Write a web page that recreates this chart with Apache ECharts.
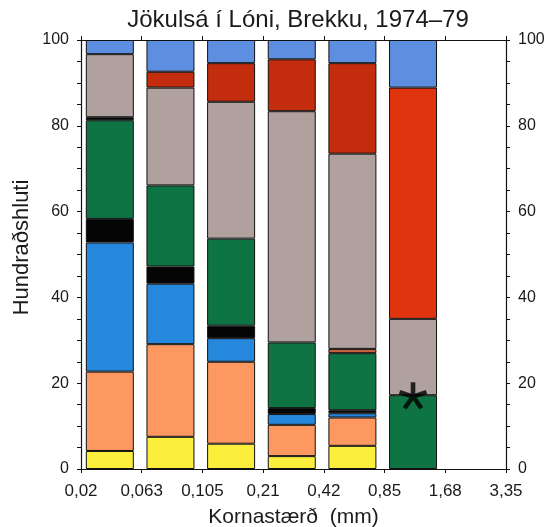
<!DOCTYPE html>
<html>
<head>
<meta charset="utf-8">
<script src="https://cdn.jsdelivr.net/npm/echarts@6/dist/echarts.min.js"></script>
<style>
  html, body { margin: 0; padding: 0; background: #fff; }
  #chart { width: 549px; height: 527px; }
</style>
</head>
<body>
<div id="chart"></div>
<script>
// Grain-size classes (intervals between the sieve sizes on the axis)
const sizeLabels = ['0,02', '0,063', '0,105', '0,21', '0,42', '0,85', '1,68', '3,35'];
const classes = ['0,02–0,063', '0,063–0,105', '0,105–0,21', '0,21–0,42', '0,42–0,85', '0,85–1,68', '1,68–3,35'];

// Percent shares per class, stacked from the bottom up
const yellow    = [4.2, 7.5, 5.9, 3.0, 5.4, 0, 0];
const orange    = [18.5, 21.6, 19.1, 7.3, 6.6, 0, 0];
const blue      = [30.1, 14.1, 5.5, 2.5, 1.0, 0, 0];
const black     = [5.5, 4.0, 2.9, 1.4, 0.7, 0, 0];
const green     = [23.0, 18.9, 20.3, 15.3, 13.3, 17.2, 0];
const blackThin = [0.7, 0, 0, 0, 0, 0, 0];
const brown     = [0, 0, 0, 0, 1.0, 0, 0];
const gray      = [14.7, 22.8, 31.9, 53.9, 45.5, 17.8, 0];
const red       = [0, 3.7, 9.0, 12.1, 21.1, 53.9, 0];
const lightBlue = [3.3, 7.4, 5.4, 4.5, 5.4, 11.1, 0];

// Marked class (asterisk on top of the green share)
const starClass = 5;
const starValue = 17.2;

const layers = [
  ['Gult', yellow, '#fbee3c'],
  ['Appelsínugult', orange, '#fd9860'],
  ['Blátt', blue, '#2688dc'],
  ['Svart', black, '#050505'],
  ['Grænt', green, '#0f7444'],
  ['Svart (þunnt)', blackThin, '#050505'],
  ['Brúnt', brown, '#c8623e'],
  ['Grátt', gray, '#b0a09e'],
  ['Rautt', red, '#c42c0e'],
  ['Ljósblátt', lightBlue, '#5e8ee0']
];

const txt = '#1a1a1a';
const font = '"Liberation Sans", Arial, sans-serif';

// Empty shares are left out so no zero-height outlines are drawn
const series = layers.map(([name, vals, col]) => ({
  name,
  type: 'bar',
  stack: 'total',
  xAxisIndex: 2,
  yAxisIndex: 2,
  barWidth: 48,
  data: vals.map((v, i) => {
    if (v === 0) return '-';
    const item = { value: v };
    if (name === 'Rautt' && i === 5) item.itemStyle = { color: '#e0340e' };
    return item;
  }),
  itemStyle: { color: col, borderColor: '#111', borderWidth: 1 },
  silent: true
}));

series.push({
  name: 'Stjarna',
  type: 'scatter',
  xAxisIndex: 2,
  yAxisIndex: 2,
  z: 10,
  symbol: 'path://M50,50L50,0M50,50L97.55,34.55M50,50L79.39,90.45M50,50L20.61,90.45M50,50L2.45,34.55',
  symbolSize: [27, 26],
  itemStyle: { color: 'rgba(0,0,0,0)', borderColor: '#000', borderWidth: 4.5 },
  data: [[starClass, starValue]],
  silent: true
});

const axisLineStyle = { show: true, onZero: false, lineStyle: { color: '#111', width: 1.2 } };
const tickStyle = { show: true, inside: false, length: 4, lineStyle: { color: '#111', width: 1 } };

const option = {
  backgroundColor: '#fff',
  animation: false,
  title: {
    text: 'Jökulsá í Lóni, Brekku, 1974–79',
    left: 293, top: 3, textAlign: 'center',
    textStyle: { fontFamily: font, fontSize: 24, fontWeight: 'normal', color: txt }
  },
  grid: [
    { left: 81, right: 43, top: 40, bottom: 58, containLabel: false, outerBoundsMode: 'none' },
    { left: 79.5, right: 45, top: 40, bottom: 58, containLabel: false, outerBoundsMode: 'none' }
  ],
  graphic: [{
    type: 'text',
    x: 21.5, y: 247.5,
    rotation: Math.PI / 2,
    style: {
      text: 'Hundraðshluti',
      font: '22px "Liberation Sans", Arial, sans-serif',
      fill: txt,
      textAlign: 'center',
      textVerticalAlign: 'middle'
    },
    silent: true
  }],
  xAxis: [
    {
      type: 'value', gridIndex: 0, min: 0, max: 7, interval: 1, position: 'bottom', z: 10,
      axisLine: axisLineStyle, axisTick: tickStyle,
      splitLine: { show: false },
      axisLabel: {
        show: true, margin: 14, fontFamily: font, fontSize: 17, color: txt,
        formatter: v => sizeLabels[Math.round(v)]
      },
      name: 'Kornastærð  (mm)', nameLocation: 'middle', nameGap: 38,
      nameTextStyle: { fontFamily: font, fontSize: 21, color: txt, verticalAlign: 'top' }
    },
    {
      type: 'value', gridIndex: 0, min: 0, max: 7, interval: 1, position: 'top', z: 10,
      axisLine: axisLineStyle, axisTick: tickStyle,
      splitLine: { show: false },
      axisLabel: { show: false }
    },
    {
      type: 'category', gridIndex: 1, data: classes, boundaryGap: true,
      axisLine: { show: false }, axisTick: { show: false }, axisLabel: { show: false }
    }
  ],
  yAxis: [
    {
      type: 'value', gridIndex: 0, min: 0, max: 100, interval: 5, position: 'left', z: 10,
      axisLine: axisLineStyle, axisTick: tickStyle,
      splitLine: { show: false },
      axisLabel: {
        margin: 12, fontFamily: font, fontSize: 16, color: txt,
        formatter: v => (v % 20 === 0 ? String(v) : '')
      }
    },
    {
      type: 'value', gridIndex: 0, min: 0, max: 100, interval: 5, position: 'right', z: 10,
      axisLine: axisLineStyle, axisTick: tickStyle,
      splitLine: { show: false },
      axisLabel: {
        margin: 12, fontFamily: font, fontSize: 16, color: txt,
        formatter: v => (v % 20 === 0 ? String(v) : '')
      }
    },
    {
      type: 'value', gridIndex: 1, min: 0, max: 100, show: false
    }
  ],
  series
};

const chart = echarts.init(document.getElementById('chart'), null, { renderer: 'canvas' });
chart.setOption(option);
</script>
</body>
</html>
